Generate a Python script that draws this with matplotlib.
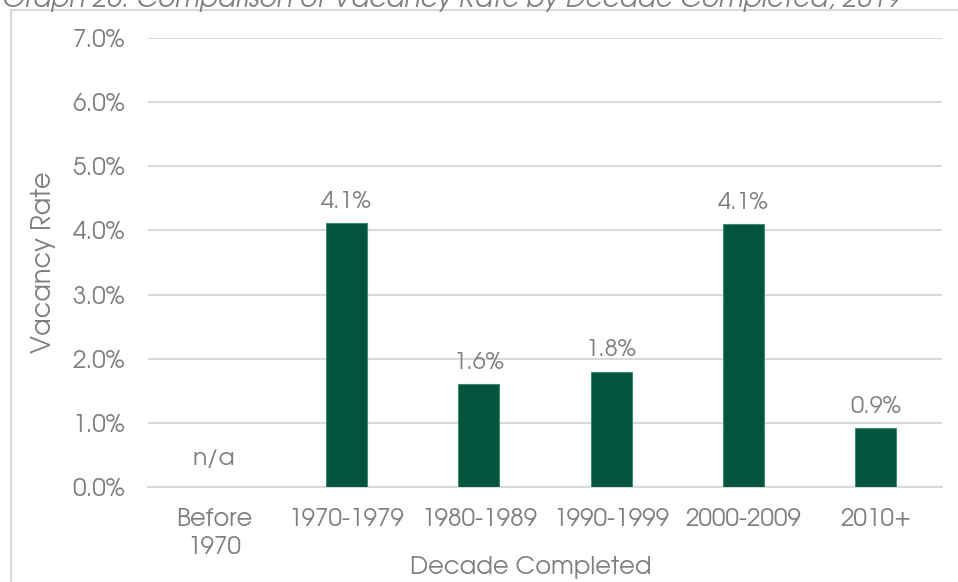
import numpy as np
import matplotlib
matplotlib.use("Agg")
import matplotlib.pyplot as plt
from matplotlib.patches import Rectangle

# chart data
decades = ["Before\n1970", "1970-1979", "1980-1989", "1990-1999", "2000-2009", "2010+"]
vacancy = [np.nan, 4.12, 1.60, 1.80, 4.10, 0.92]
labels = ["n/a", "4.1%", "1.6%", "1.8%", "4.1%", "0.9%"]
y_ticks = [0, 1, 2, 3, 4, 5, 6, 7]

gray = "#7f7f7f"
green = "#00553c"
grid = "#d9d9d9"

plt.rcParams["font.family"] = ["TeX Gyre Adventor", "Didact Gothic", "DejaVu Sans"]

fig = plt.figure(figsize=(9.58, 5.82), dpi=100)
ax = fig.add_axes([148 / 958, 1 - 487 / 582, (942 - 148) / 958, (487 - 38) / 582])

x = np.arange(len(decades))
ax.bar(x, vacancy, width=0.31, color=green, edgecolor="#3d8a70", linewidth=0.8, zorder=3)

for i, (v, lab) in enumerate(zip(vacancy, labels)):
    if np.isnan(v):
        ax.text(i, 0.45, lab, ha="center", va="center", fontsize=17, color=gray)
    else:
        ax.annotate(lab, (i, v), xytext=(0, 8), textcoords="offset points",
                    ha="center", va="bottom", fontsize=17, color=gray)

ax.set_xlim(-0.5, len(decades) - 0.5)
ax.set_ylim(0, 7)
ax.set_yticks(y_ticks)
ax.set_yticklabels([f"{t:.1f}%" for t in y_ticks])
ax.set_xticks(x)
ax.set_xticklabels(decades, linespacing=1.3)
ax.tick_params(axis="both", length=0, labelsize=17.5, labelcolor=gray)
ax.tick_params(axis="x", pad=15)
ax.tick_params(axis="y", pad=16.5)

ax.yaxis.grid(True, color=grid, linewidth=1.5, zorder=0)
ax.set_axisbelow(True)
for s in ["top", "right", "left"]:
    ax.spines[s].set_visible(False)
ax.spines["bottom"].set_color(grid)
ax.spines["bottom"].set_linewidth(1.5)

ax.set_xlabel("Decade Completed", fontsize=17.5, color=gray)
ax.xaxis.set_label_coords(0.482, -0.154)
ax.set_ylabel("Vacancy Rate", fontsize=18.5, color=gray, labelpad=12)

# outer chart border (partly outside the image)
fig.patches.append(Rectangle((11 / 958, -0.2), 1.2, 1.2 - 10 / 582,
                             transform=fig.transFigure, fill=False,
                             edgecolor=grid, linewidth=1.5))

fig.text(0.002, 1 - 7 / 582, "Graph 26: Comparison of Vacancy Rate by Decade Completed, 2019",
         ha="left", va="baseline", fontsize=19, style="italic", color=gray)

fig.savefig("out.png", dpi=100)
